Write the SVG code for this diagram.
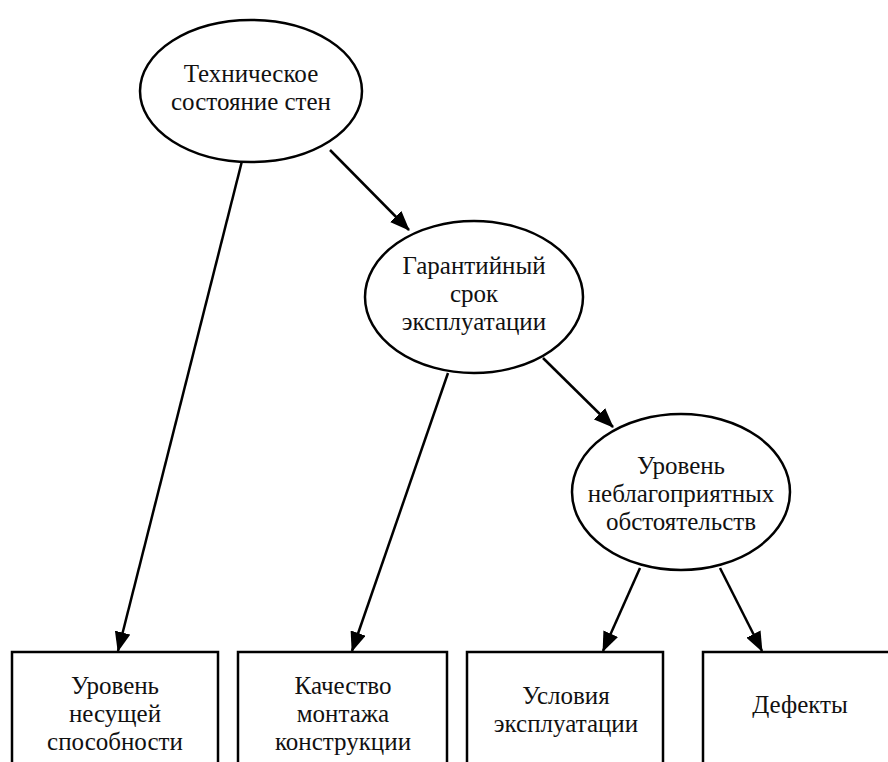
<svg xmlns="http://www.w3.org/2000/svg" width="888" height="762" viewBox="0 0 888 762">
<style>
.n{fill:#fff;stroke:#000;stroke-width:2.5}
.t{font-family:"Liberation Serif","Times New Roman",serif;font-size:25px;fill:#111;text-anchor:middle}
.c{stroke:#000;stroke-width:2.5;fill:none;marker-end:url(#ah)}
</style>
<defs>
<marker id="ah" markerUnits="userSpaceOnUse" markerWidth="20" markerHeight="16" refX="19" refY="8" orient="auto">
<path d="M0,0 L20,8 L0,16 z" fill="#000"/>
</marker>
</defs>
<rect width="888" height="762" fill="#fff"/>
<g id="connectors">
<line class="c" x1="242" y1="161" x2="118" y2="651"/>
<line class="c" x1="330" y1="150" x2="409" y2="230"/>
<line class="c" x1="448" y1="373" x2="352" y2="651"/>
<line class="c" x1="543" y1="358" x2="613" y2="427"/>
<line class="c" x1="640" y1="568" x2="603" y2="651"/>
<line class="c" x1="720" y1="568" x2="762" y2="651"/>
</g>
<g id="n1">
<ellipse class="n" cx="251" cy="91" rx="111" ry="71"/>
<text class="t" x="251" y="82">Техническое</text>
<text class="t" x="251" y="110">состояние стен</text>
</g>
<g id="n2">
<ellipse class="n" cx="474" cy="297" rx="109" ry="76"/>
<text class="t" x="474" y="274">Гарантийный</text>
<text class="t" x="474" y="302">срок</text>
<text class="t" x="474" y="330">эксплуатации</text>
</g>
<g id="n3">
<ellipse class="n" cx="681" cy="492" rx="109" ry="78"/>
<text class="t" x="681" y="474">Уровень</text>
<text class="t" x="681" y="502">неблагоприятных</text>
<text class="t" x="681" y="530">обстоятельств</text>
</g>
<g id="b1">
<rect class="n" x="12" y="652" width="206" height="130"/>
<text class="t" x="115" y="694">Уровень</text>
<text class="t" x="115" y="722">несущей</text>
<text class="t" x="115" y="750">способности</text>
</g>
<g id="b2">
<rect class="n" x="238" y="652" width="209" height="130"/>
<text class="t" x="343" y="694">Качество</text>
<text class="t" x="343" y="722">монтажа</text>
<text class="t" x="343" y="750">конструкции</text>
</g>
<g id="b3">
<rect class="n" x="467" y="652" width="196" height="130"/>
<text class="t" x="566" y="704">Условия</text>
<text class="t" x="566" y="732">эксплуатации</text>
</g>
<g id="b4">
<rect class="n" x="703" y="652" width="200" height="130"/>
<text class="t" x="800" y="713">Дефекты</text>
</g>
</svg>
